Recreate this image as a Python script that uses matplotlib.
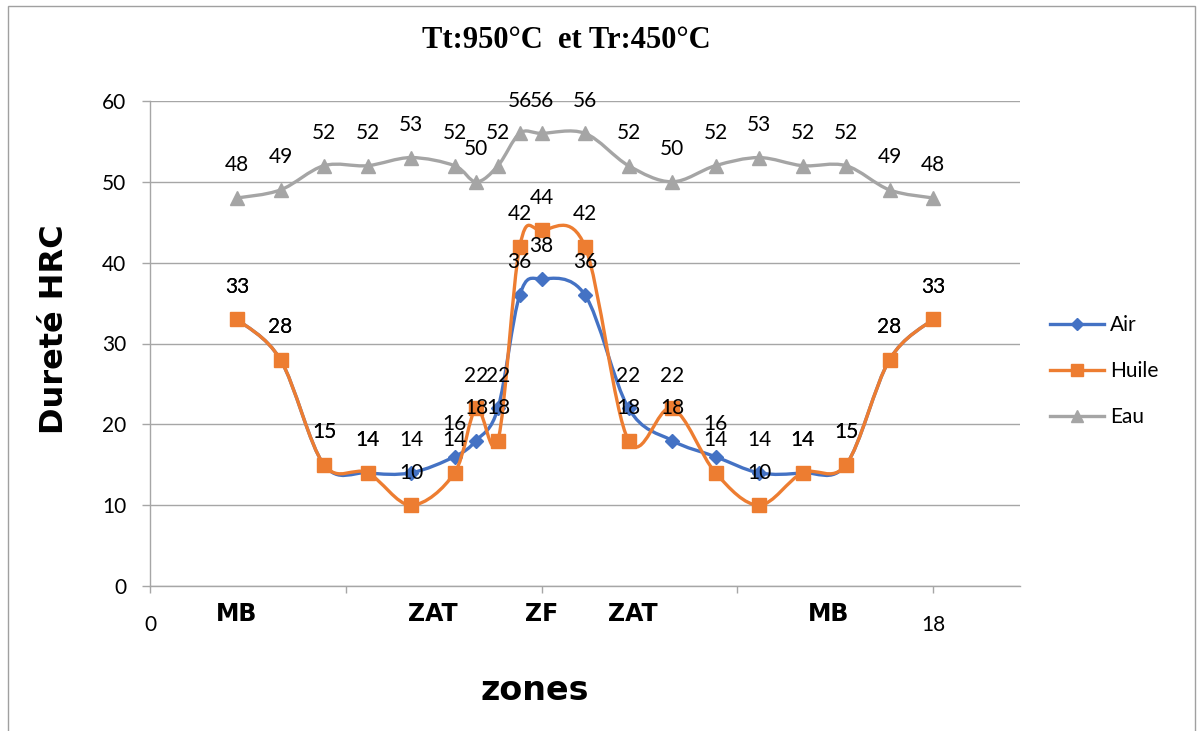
import numpy as np
import matplotlib
matplotlib.use('Agg')
import matplotlib.pyplot as plt
from matplotlib.path import Path
from matplotlib.patches import PathPatch, Rectangle
from matplotlib.lines import Line2D
import matplotlib.transforms as mtransforms

# ---------------- data ----------------
zones_x = [2, 3, 4, 5, 6, 7, 7.5, 8, 8.5, 9, 10, 11, 12, 13, 14, 15, 16, 17, 18]
air = [33, 28, 15, 14, 14, 16, 18, 22, 36, 38, 36, 22, 18, 16, 14, 14, 15, 28, 33]
huile = [33, 28, 15, 14, 10, 14, 22, 18, 42, 44, 42, 18, 22, 14, 10, 14, 15, 28, 33]
eau = [48, 49, 52, 52, 53, 52, 50, 52, 56, 56, 56, 52, 50, 52, 53, 52, 52, 49, 48]
series_names = ['Air', 'Huile', 'Eau']
zone_labels = ['MB', 'ZAT', 'ZF', 'ZAT', 'MB']
zone_label_x = [2.0, 6.5, 9.0, 11.1, 15.6]
y_ticks = [0, 10, 20, 30, 40, 50, 60]
x_ticks = [0, 4.5, 9, 13.5, 18]
x_tick_labels = ['0', '', '', '', '18']
title = 'Tt:950°C  et Tr:450°C'
y_title = 'Dureté HRC'
x_title = 'zones'

colors = ['#4472C4', '#ED7D31', '#A5A5A5']
markers = ['D', 's', '^']
msizes = [7.5, 9.5, 10]

W, H = 1197, 731
fig = plt.figure(figsize=(W / 100, H / 100), dpi=100)
ax = fig.add_axes([150 / W, 1 - 586 / H, (1020 - 150) / W, (586 - 101) / H])

LBL_FONT = 'Lato'


def smooth_path(xs, ys):
    P = np.column_stack([xs, ys]).astype(float)
    n = len(P)
    verts = [P[0]]
    codes = [Path.MOVETO]
    for i in range(n - 1):
        p0 = P[i - 1] if i > 0 else P[i]
        p1 = P[i]
        p2 = P[i + 1]
        p3 = P[i + 2] if i + 2 < n else P[i + 1]
        c1 = p1 + (p2 - p0) / 6.0
        c2 = p2 - (p3 - p1) / 6.0
        verts += [c1, c2, p2]
        codes += [Path.CURVE4] * 3
    return Path(verts, codes)


ax.set_xlim(0, 20)
ax.set_ylim(0, 60)
ax.set_yticks(y_ticks)
ax.set_xticks(x_ticks)
ax.set_xticklabels(x_tick_labels)
ax.yaxis.grid(True, color='#A6A6A6', linewidth=1.0)
ax.set_axisbelow(True)
for s in ['top', 'right']:
    ax.spines[s].set_visible(False)
for s in ['left', 'bottom']:
    ax.spines[s].set_color('#A6A6A6')
    ax.spines[s].set_linewidth(1.0)
ax.tick_params(axis='y', length=6, width=1, color='#A6A6A6', pad=11,
               labelsize=15)
ax.tick_params(axis='x', length=5, width=1, color='#A6A6A6', pad=16,
               labelsize=15)
for lab in ax.get_xticklabels() + ax.get_yticklabels():
    lab.set_fontfamily(LBL_FONT)

all_series = [air, huile, eau]
for k, ys in enumerate(all_series):
    path = smooth_path(zones_x, ys)
    ax.add_patch(PathPatch(path, fill=False, edgecolor=colors[k], lw=2.4,
                           capstyle='round', joinstyle='round', zorder=3 + k))
    ax.plot(zones_x, ys, ls='none', marker=markers[k], ms=msizes[k],
            color=colors[k], markeredgecolor=colors[k], zorder=3.5 + k)

for k, ys in enumerate(all_series):
    for x, y in zip(zones_x, ys):
        ax.annotate(str(y), (x, y), xytext=(0, 23.5), textcoords='offset points',
                    ha='center', va='center', fontsize=15, family=LBL_FONT,
                    color='black', zorder=10)

# zone labels under the axis
trans = mtransforms.blended_transform_factory(ax.transData, ax.transAxes)
for zx, zl in zip(zone_label_x, zone_labels):
    ax.text(zx, -0.0575, zl, transform=trans, ha='center', va='center',
            fontsize=17, fontweight='bold', family='DejaVu Sans')

fig.text(566 / W, 1 - 41 / H, title, ha='center', va='center', fontsize=22,
         fontweight='bold', family='Liberation Serif')
fig.text(55 / W, 1 - 329 / H, y_title, ha='center', va='center', rotation=90,
         fontsize=23, fontweight='bold', family='DejaVu Sans')
fig.text(535 / W, 1 - 690 / H, x_title, ha='center', va='center', fontsize=24,
         fontweight='bold', family='DejaVu Sans')

handles = [Line2D([], [], color=colors[k], lw=2.4, marker=markers[k],
                  ms=msizes[k] * 0.85) for k in range(3)]
leg = fig.legend(handles, series_names, loc='center left',
                 bbox_to_anchor=(1050 / W, 1 - 371 / H), frameon=False,
                 prop={'family': LBL_FONT, 'size': 15}, handlelength=2.6,
                 handletextpad=0.3, labelspacing=1.25, borderpad=0,
                 borderaxespad=0)

fig.add_artist(Rectangle((8 / W, -0.02), (1195 - 8) / W, 1 - 6 / H + 0.02,
                         transform=fig.transFigure, fill=False,
                         edgecolor='#A0A0A0', lw=1.0))

fig.savefig('out.png', dpi=100)
